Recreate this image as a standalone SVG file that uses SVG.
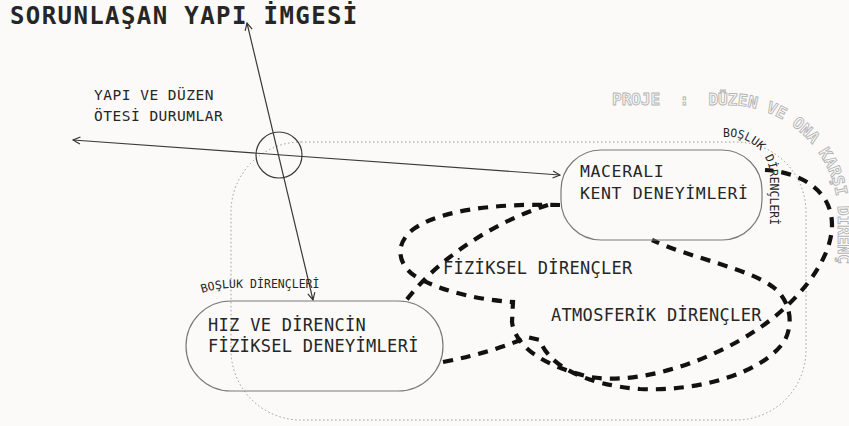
<svg xmlns="http://www.w3.org/2000/svg" width="849" height="426" viewBox="0 0 849 426">
<defs>
<style>
.mono{font-family:"DejaVu Sans Mono","Liberation Mono",monospace;fill:#262626}
.node{fill:none;stroke:#7a7a7a;stroke-width:1.2}
.thin{fill:none;stroke:#3a3a3a;stroke-width:1.2}
.dot{fill:none;stroke:#9a9a9a;stroke-width:1;stroke-dasharray:1.5 2.5}
.thick{fill:none;stroke:#111;stroke-width:4.2;stroke-dasharray:10 8}
.ghost{font-family:"DejaVu Sans Mono",monospace;font-weight:bold;font-size:16px;fill:#fbfaf8;stroke:#b4b4b4;stroke-width:0.9}
</style>
<marker id="ah" viewBox="0 0 10 10" refX="9" refY="5" markerWidth="9" markerHeight="9" markerUnits="userSpaceOnUse" orient="auto-start-reverse">
<path d="M1,1 L9,5 L1,9" fill="none" stroke="#333" stroke-width="1.3"/>
</marker>
<path id="projePath" d="M 612 105 H 728 A 110 110 0 0 1 838 215 V 420"/>
<path id="boslukTop" d="M 700 137 H 730 A 40 40 0 0 1 770 177 V 260"/>
<path id="boslukLeft" d="M 202 293 Q 220 287 242 288 L 340 288"/>
</defs>
<rect width="849" height="426" fill="#fbfaf8"/>

<text class="mono" x="10" y="24" font-size="24" font-weight="bold" letter-spacing="1.4" fill="#1a1a1a">SORUNLAŞAN YAPI İMGESİ</text>

<g id="frame">
<rect class="dot" x="231" y="142" width="575" height="278" rx="70" ry="70"/>
</g>

<g id="connectors">
<line class="thin" x1="247" y1="23" x2="313" y2="300" marker-start="url(#ah)" marker-end="url(#ah)"/>
<line class="thin" x1="73" y1="140" x2="560" y2="175" marker-start="url(#ah)" marker-end="url(#ah)"/>
<circle class="thin" cx="279" cy="155" r="23"/>
<path class="thick" d="M 560 205 C 520 204 450 205 415 228 C 392 244 398 268 420 279 C 445 292 480 300 513 302 L 512 322 C 515 345 540 365 590 377 C 640 385 708 362 755 331 C 798 303 832 260 832 225 C 832 190 800 172 765 170"/>
<path class="thick" d="M 443 362 C 480 355 510 345 527 337 L 540 340 C 548 365 585 385 640 389 C 700 392 765 372 785 340 C 795 320 788 298 773 287 C 748 268 690 258 652 240"/>
<path class="thick" d="M 548 205 C 500 220 440 255 405 302"/>
</g>

<g id="node-maceral">
<rect class="node" x="561" y="150" width="201" height="90" rx="40" ry="40"/>
<text class="mono" x="580" y="177" font-size="16.5" letter-spacing="0.6">MACERALI</text>
<text class="mono" x="580" y="199" font-size="16.5" letter-spacing="0.6">KENT DENEYİMLERİ</text>
</g>

<g id="node-hiz">
<rect class="node" x="186" y="301" width="257" height="90" rx="45" ry="45"/>
<text class="mono" x="208" y="331" font-size="17" letter-spacing="0.3">HIZ VE DİRENCİN</text>
<text class="mono" x="208" y="352" font-size="17" letter-spacing="0.3">FİZİKSEL DENEYİMLERİ</text>
</g>

<g id="node-yapi">
<text class="mono" x="94" y="100" font-size="14.5" letter-spacing="0.5">YAPI VE DÜZEN</text>
<text class="mono" x="94" y="121" font-size="14.5" letter-spacing="0.5">ÖTESİ DURUMLAR</text>
</g>

<g id="label-fiziksel">
<text class="mono" x="443" y="274" font-size="17" letter-spacing="0.3">FİZİKSEL DİRENÇLER</text>
</g>

<g id="label-atmosferik">
<text class="mono" x="551" y="321" font-size="17" letter-spacing="0.3">ATMOSFERİK DİRENÇLER</text>
</g>

<g id="label-bosluk-left">
<text class="mono" font-size="11.5"><textPath href="#boslukLeft">BOŞLUK DİRENÇLERİ</textPath></text>
</g>

<g id="label-bosluk-top">
<text class="mono" font-size="11.5"><textPath href="#boslukTop" startOffset="23">BOŞLUK DİRENÇLERİ</textPath></text>
</g>

<g id="label-proje">
<text class="ghost" xml:space="preserve"><textPath href="#projePath">PROJE  :  DÜZEN VE ONA KARŞI DİRENÇ</textPath></text>
</g>
</svg>
